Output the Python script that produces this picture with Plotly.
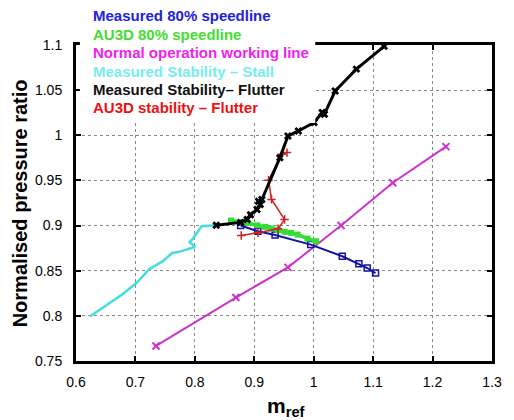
import plotly.graph_objects as go

# ---- data ----
stall_x = [0.6233, 0.677, 0.7017, 0.7237, 0.7456, 0.762, 0.7757, 0.8003, 0.7911, 0.7965, 0.8113, 0.825, 0.836]
stall_y = [0.7992, 0.8233, 0.8363, 0.852, 0.8603, 0.8697, 0.8714, 0.8763, 0.8819, 0.8852, 0.8993, 0.9003, 0.9003]

work_x = [0.7346, 0.869, 0.9566, 1.046, 1.133, 1.2225]
work_y = [0.7667, 0.8203, 0.8537, 0.900, 0.9474, 0.9874]

meas_x = [0.877, 0.906, 0.935, 0.995, 1.048, 1.076, 1.090, 1.104]
meas_y = [0.900, 0.8937, 0.8895, 0.8789, 0.866, 0.8578, 0.853, 0.8474]

au3d_x = [0.8607, 0.8808, 0.8889, 0.9054, 0.9183, 0.9293, 0.9401, 0.9512, 0.962, 0.973, 0.9895, 1.0041]
au3d_y = [0.9056, 0.9041, 0.903, 0.9003, 0.8986, 0.8967, 0.8948, 0.893, 0.8919, 0.890, 0.8856, 0.8826]

au3dflut_x = [0.878, 0.906, 0.940, 0.951, 0.929, 0.924, 0.946, 0.955]
au3dflut_y = [0.889, 0.892, 0.8965, 0.9067, 0.929, 0.9503, 0.9789, 0.9808]

flut_x = [0.836, 0.877, 0.888, 0.8936, 0.9046, 0.910, 0.907, 0.9128, 0.943, 0.9566, 0.9742, 1.0005,
          1.0142, 1.018, 1.036, 1.0717, 1.1184]
flut_y = [0.9003, 0.9035, 0.9067, 0.912, 0.9178, 0.9233, 0.927, 0.9289, 0.975, 0.9992, 1.0048, 1.0141,
          1.0252, 1.0233, 1.049, 1.0733, 1.0985]

x_ticks = [0.6, 0.7, 0.8, 0.9, 1.0, 1.1, 1.2, 1.3]
x_tick_text = ["0.6", "0.7", "0.8", "0.9", "1", "1.1", "1.2", "1.3"]
y_ticks = [0.75, 0.8, 0.85, 0.9, 0.95, 1.0, 1.05, 1.1]
y_tick_text = ["0.75", "0.8", "0.85", "0.9", "0.95", "1", "1.05", "1.1"]

legend_labels = ["Measured 80% speedline", "AU3D 80% speedline", "Normal operation working line",
                 "Measured Stability \u2013 Stall", "Measured Stability\u2013 Flutter", "AU3D stability \u2013 Flutter"]
legend_colors = ["#2222dd", "#44dd33", "#ee22ee", "#77eeee", "#111111", "#ee1111"]

FONT = "Liberation Sans, Arial, sans-serif"

fig = go.Figure()
fig.add_trace(go.Scatter(x=stall_x, y=stall_y, mode="lines",
                         line=dict(color="#44dddd", width=2.5)))
fig.add_trace(go.Scatter(x=work_x, y=work_y, mode="lines+markers",
                         line=dict(color="#cc33cc", width=2),
                         marker=dict(symbol="x-thin-open", size=7, line=dict(color="#cc33cc", width=2))))
fig.add_trace(go.Scatter(x=meas_x, y=meas_y, mode="lines+markers",
                         line=dict(color="#1414a0", width=2),
                         marker=dict(symbol="square-open", size=6, color="#1414a0", line=dict(width=1.5))))
fig.add_trace(go.Scatter(x=au3d_x, y=au3d_y, mode="lines+markers",
                         line=dict(color="#33dd33", width=3.5),
                         marker=dict(symbol="square", size=6, color="#33dd33")))
fig.add_trace(go.Scatter(x=au3dflut_x, y=au3dflut_y, mode="lines+markers",
                         line=dict(color="#cc2222", width=1.5),
                         marker=dict(symbol="cross-thin-open", size=6, line=dict(color="#cc2222", width=1.5))))
fig.add_trace(go.Scatter(x=flut_x, y=flut_y, mode="lines+markers",
                         line=dict(color="#000000", width=3),
                         marker=dict(symbol="x", size=7, color="#000000")))

L, R, T, B, W, H = 76, 12, 45, 59, 514, 420
pw, ph = W - L - R, H - T - B
def px(x): return (x - L) / pw
def py(y): return (H - B - y) / ph

# white box behind the colored labels (covers grid/top border like reference)
fig.add_shape(type="rect", xref="paper", yref="paper", layer="above",
              x0=px(80), x1=px(321), y0=py(123), y1=py(0),
              fillcolor="white", line=dict(width=0))

centers = [16, 34.5, 52.5, 71, 89.7, 108]
for lab, col, cy in zip(legend_labels, legend_colors, centers):
    fig.add_annotation(text=lab, xref="paper", yref="paper", x=px(91), y=py(cy),
                       xanchor="left", yanchor="middle", showarrow=False,
                       font=dict(family=FONT, size=15, color=col, weight="bold"))

fig.add_annotation(text="Normalised pressure ratio", xref="paper", yref="paper",
                   x=px(19), y=py(203), textangle=-90, showarrow=False,
                   xanchor="center", yanchor="middle",
                   font=dict(family=FONT, size=20, color="black", weight="bold"))
fig.add_annotation(text="m<sub>ref</sub>", xref="paper", yref="paper",
                   x=px(291), y=py(407), showarrow=False,
                   xanchor="center", yanchor="middle",
                   font=dict(family=FONT, size=21, color="black", weight="bold"))

axis_common = dict(showline=True, linecolor="black", linewidth=3, mirror="allticks",
                   ticks="inside", ticklen=5, tickwidth=2, tickcolor="black",
                   showgrid=True, gridcolor="#888888", gridwidth=1, griddash="dot",
                   zeroline=False, tickfont=dict(family=FONT, size=14, color="black"))

fig.update_xaxes(range=[0.6, 1.3], tickvals=x_ticks, ticktext=x_tick_text,
                 ticklabelstandoff=6, **axis_common)
fig.update_yaxes(range=[0.75, 1.1], tickvals=y_ticks, ticktext=y_tick_text,
                 ticklabelstandoff=8, **axis_common)

fig.update_layout(width=W, height=H, margin=dict(l=L, r=R, t=T, b=B),
                  plot_bgcolor="white", paper_bgcolor="white", showlegend=False)

fig.write_html("out.html")
